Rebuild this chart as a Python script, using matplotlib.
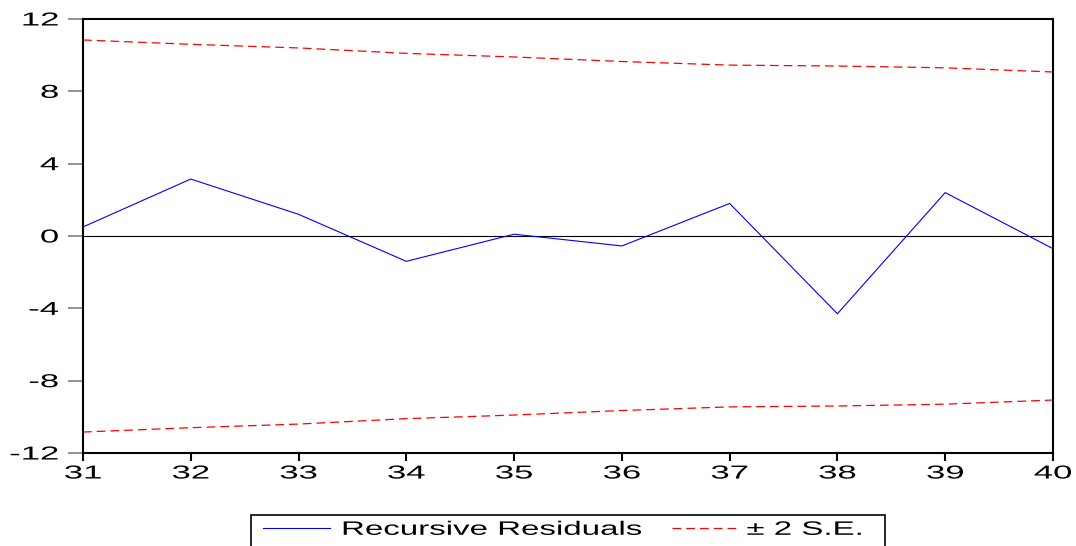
import numpy as np
import matplotlib.pyplot as plt
from matplotlib.patheffects import AbstractPathEffect
from matplotlib.transforms import Affine2D
from matplotlib.patches import Rectangle

plt.rcParams['font.family'] = ['Liberation Sans', 'DejaVu Sans']
plt.rcParams['axes.unicode_minus'] = False

# Observations
obs = [31, 32, 33, 34, 35, 36, 37, 38, 39, 40]
# Recursive residuals
resid = [0.5, 3.15, 1.2, -1.4, 0.1, -0.55, 1.8, -4.3, 2.4, -0.7]
# +2 standard error band
se_upper = [10.84, 10.6, 10.4, 10.1, 9.9, 9.65, 9.45, 9.4, 9.3, 9.07]
se_lower = [-v for v in se_upper]

yticks = [-12, -8, -4, 0, 4, 8, 12]


# the original (EViews) text is very wide, so stretch glyphs sideways
class Stretch(AbstractPathEffect):
    def __init__(self, sx, anchor="center"):
        super().__init__()
        self.sx = sx
        self.anchor = anchor

    def draw_path(self, renderer, gc, tpath, affine, rgbFace=None):
        ext = tpath.get_extents(affine)
        if self.anchor == "left":
            cx = ext.x0
        elif self.anchor == "right":
            cx = ext.x1
        else:
            cx = (ext.x0 + ext.x1) / 2
        aff = affine + Affine2D().translate(-cx, 0).scale(self.sx, 1).translate(cx, 0)
        renderer.draw_path(gc, tpath, aff, rgbFace)


fig = plt.figure(figsize=(10.76, 5.46), dpi=100)
ax = fig.add_axes([0.0771, 0.1703, 0.9015, 0.7949])

ax.axhline(0, color="black", linewidth=0.8)
l1, = ax.plot(obs, resid, color="blue", linewidth=0.8, label="Recursive Residuals")
l2, = ax.plot(obs, se_upper, color="red", linewidth=0.9, dashes=(7, 4), label="± 2 S.E.")
ax.plot(obs, se_lower, color="red", linewidth=0.9, dashes=(7, 4))

ax.set_xlim(31, 40)
ax.set_ylim(-12, 12)
ax.set_xticks(obs)
ax.set_yticks(yticks)
ax.tick_params(axis="both", labelsize=13.5, direction="out")
ax.tick_params(axis="y", length=11, width=1.2, color="gray", pad=6.5)
ax.tick_params(axis="x", length=6, width=1.5, pad=3)
for sp in ax.spines.values():
    sp.set_linewidth(1.5)
    sp.set_color("black")

for lbl in ax.get_xticklabels():
    lbl.set_path_effects([Stretch(1.85, "center")])
for lbl in ax.get_yticklabels():
    lbl.set_path_effects([Stretch(1.85, "right")])

# legend: two entries placed like the original, with a plain box around them
yleg = 1 - 530 / 546
leg1 = fig.legend(handles=[l1], loc="center left", bbox_to_anchor=(263 / 1076, yleg),
                  frameon=False, fontsize=14, handlelength=3.45, handletextpad=0.62,
                  borderpad=0, borderaxespad=0)
leg2 = fig.legend(handles=[l2], loc="center left", bbox_to_anchor=(672 / 1076, yleg),
                  frameon=False, fontsize=14, handlelength=3.35, handletextpad=0.5,
                  borderpad=0, borderaxespad=0)
for lg in (leg1, leg2):
    for t in lg.get_texts():
        t.set_path_effects([Stretch(1.7, "left")])

box_top = 1 - 515 / 546
fig.add_artist(Rectangle((251 / 1076, -0.05), (885 - 251) / 1076, box_top + 0.05,
                         transform=fig.transFigure, fill=False,
                         edgecolor="black", linewidth=1.2))

fig.savefig("out.png", dpi=100)
